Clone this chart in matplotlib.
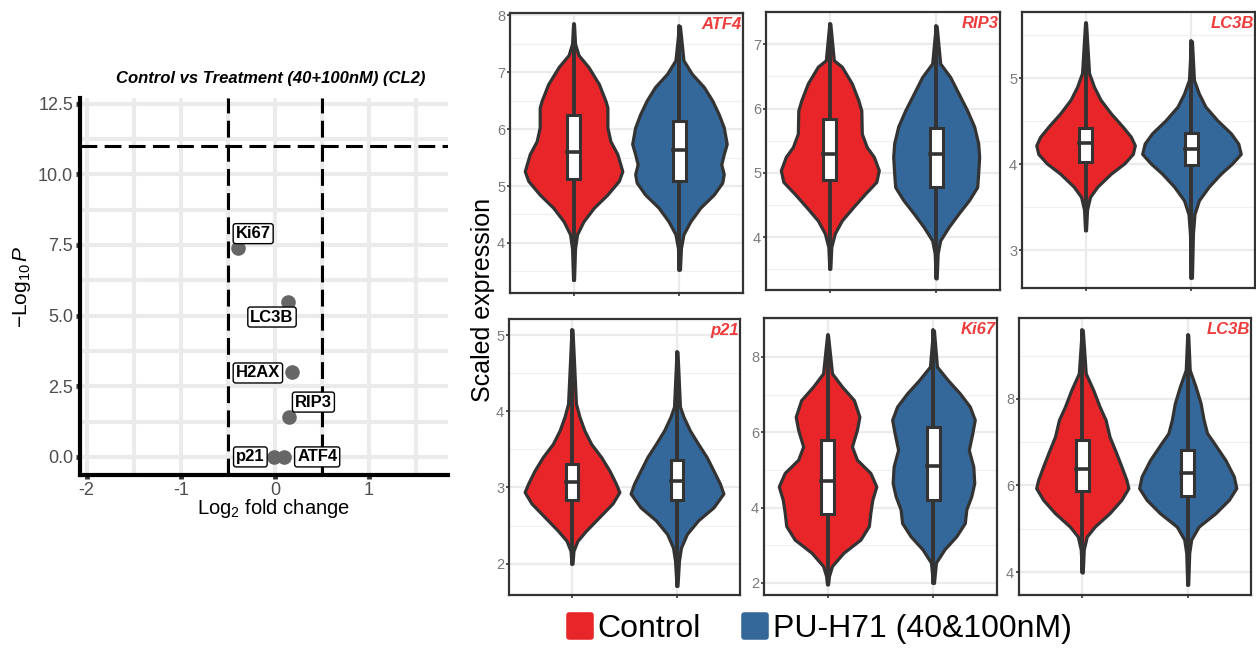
import matplotlib
matplotlib.use('Agg')
import matplotlib.pyplot as plt
import numpy as np
from matplotlib.lines import Line2D
from matplotlib.markers import MarkerStyle
from matplotlib.patches import Rectangle

plt.rcParams['font.family'] = ['Liberation Sans', 'DejaVu Sans']
plt.rcParams['mathtext.fontset'] = 'custom'
plt.rcParams['mathtext.rm'] = 'Liberation Sans'
plt.rcParams['mathtext.it'] = 'Liberation Sans:italic'
plt.rcParams['axes.unicode_minus'] = False

# ---- volcano data ----
genes = ['Ki67', 'LC3B', 'H2AX', 'RIP3', 'p21', 'ATF4']
log2fc = [-0.39, 0.14, 0.18, 0.15, -0.01, 0.10]
neglog10p = [7.38, 5.47, 3.00, 1.41, 0.00, 0.00]
fc_cut = 0.5
p_cut = 11.0
label_x = [-0.23, -0.03, -0.18, 0.41, -0.26, 0.45]
label_y = [7.90, 4.95, 2.97, 1.94, 0.00, 0.00]

# ---- violin data: y levels and relative half-widths ----
groups = ['Control', 'PU-H71 (40&100nM)']
group_colors = ['#E8262A', '#35689A']

atf4_ctrl_y = [3.35, 3.90, 4.15, 4.38, 4.62, 4.85, 5.09, 5.26, 5.56, 5.79, 6.03, 6.38, 6.50, 6.79, 7.09, 7.30, 7.50, 7.84]
atf4_ctrl_w = [0.01, 0.03, 0.07, 0.20, 0.41, 0.68, 0.91, 0.98, 0.88, 0.74, 0.68, 0.68, 0.64, 0.51, 0.30, 0.10, 0.03, 0.01]
atf4_trt_y = [3.53, 3.91, 4.15, 4.38, 4.62, 4.85, 5.06, 5.21, 5.38, 5.56, 5.74, 6.03, 6.26, 6.50, 6.74, 6.97, 7.21, 7.81]
atf4_trt_w = [0.01, 0.03, 0.08, 0.22, 0.42, 0.69, 0.86, 0.89, 0.84, 0.89, 0.95, 0.89, 0.79, 0.66, 0.49, 0.25, 0.08, 0.01]

rip3_ctrl_y = [3.51, 3.85, 4.06, 4.26, 4.47, 4.68, 4.86, 5.04, 5.25, 5.40, 5.61, 5.97, 6.13, 6.39, 6.65, 6.75, 7.32]
rip3_ctrl_w = [0.01, 0.03, 0.10, 0.24, 0.47, 0.71, 0.93, 0.98, 0.88, 0.74, 0.64, 0.63, 0.57, 0.44, 0.24, 0.08, 0.01]
rip3_trt_y = [3.36, 3.75, 3.95, 4.16, 4.37, 4.58, 4.78, 4.99, 5.25, 5.46, 5.72, 5.97, 6.23, 6.49, 6.70, 7.28]
rip3_trt_w = [0.01, 0.03, 0.08, 0.25, 0.45, 0.66, 0.82, 0.84, 0.86, 0.84, 0.76, 0.62, 0.45, 0.28, 0.08, 0.01]

lc3b_ctrl_y = [3.23, 3.47, 3.62, 3.74, 3.89, 4.01, 4.12, 4.22, 4.32, 4.44, 4.59, 4.75, 4.90, 5.06, 5.64]
lc3b_ctrl_w = [0.01, 0.03, 0.09, 0.24, 0.51, 0.78, 0.95, 0.99, 0.91, 0.74, 0.51, 0.30, 0.17, 0.07, 0.01]
lc3b_trt_y = [2.68, 3.19, 3.42, 3.58, 3.74, 3.89, 4.01, 4.12, 4.24, 4.36, 4.51, 4.67, 4.82, 4.98, 5.43]
lc3b_trt_w = [0.01, 0.03, 0.06, 0.15, 0.35, 0.59, 0.82, 0.99, 0.94, 0.79, 0.52, 0.28, 0.15, 0.05, 0.01]

p21_ctrl_y = [2.00, 2.17, 2.30, 2.43, 2.61, 2.79, 2.94, 3.05, 3.22, 3.40, 3.57, 3.75, 3.93, 4.10, 5.07]
p21_ctrl_w = [0.01, 0.03, 0.11, 0.28, 0.55, 0.82, 0.96, 0.89, 0.76, 0.59, 0.39, 0.25, 0.15, 0.08, 0.01]
p21_trt_y = [1.71, 2.04, 2.21, 2.39, 2.57, 2.74, 2.92, 3.05, 3.22, 3.40, 3.57, 3.75, 3.93, 4.06, 4.78]
p21_trt_w = [0.01, 0.04, 0.08, 0.20, 0.43, 0.74, 0.94, 0.87, 0.74, 0.60, 0.43, 0.26, 0.13, 0.06, 0.01]

ki67_ctrl_y = [1.96, 2.19, 2.45, 2.80, 3.15, 3.51, 3.86, 4.21, 4.56, 4.92, 5.27, 5.62, 6.06, 6.41, 6.85, 7.21, 7.56, 8.57]
ki67_ctrl_w = [0.01, 0.03, 0.09, 0.32, 0.66, 0.83, 0.86, 0.90, 0.98, 0.86, 0.59, 0.49, 0.59, 0.64, 0.53, 0.29, 0.09, 0.01]
ki67_trt_y = [2.00, 2.27, 2.54, 2.89, 3.24, 3.59, 3.95, 4.30, 4.65, 5.09, 5.53, 5.97, 6.33, 6.68, 7.03, 7.38, 7.74, 8.70]
ki67_trt_w = [0.01, 0.03, 0.05, 0.22, 0.46, 0.63, 0.66, 0.76, 0.82, 0.80, 0.71, 0.78, 0.83, 0.73, 0.53, 0.29, 0.07, 0.01]

lc3b2_ctrl_y = [3.99, 4.52, 4.82, 5.05, 5.36, 5.67, 5.94, 6.13, 6.44, 6.82, 7.13, 7.52, 7.82, 8.21, 8.59, 9.59]
lc3b2_ctrl_w = [0.01, 0.03, 0.09, 0.25, 0.55, 0.79, 0.93, 0.89, 0.79, 0.66, 0.55, 0.47, 0.35, 0.22, 0.07, 0.01]
lc3b2_trt_y = [3.71, 4.44, 4.75, 5.05, 5.36, 5.67, 5.94, 6.21, 6.59, 6.98, 7.21, 7.52, 7.90, 8.28, 8.67, 9.48]
lc3b2_trt_w = [0.01, 0.03, 0.07, 0.22, 0.56, 0.83, 0.98, 0.93, 0.76, 0.53, 0.39, 0.32, 0.26, 0.16, 0.04, 0.01]

# box stats: q1, median, q3 (ctrl, trt) per panel
panel_genes = ['ATF4', 'RIP3', 'LC3B', 'p21', 'Ki67', 'LC3B']
box_q1 = [5.12, 5.09, 4.89, 4.78, 4.03, 3.99, 2.83, 2.84, 3.82, 4.21, 5.88, 5.75]
box_med = [5.59, 5.63, 5.29, 5.29, 4.25, 4.18, 3.07, 3.08, 4.70, 5.09, 6.38, 6.28]
box_q3 = [6.24, 6.15, 5.84, 5.69, 4.42, 4.36, 3.31, 3.36, 5.80, 6.15, 7.05, 6.82]

profiles = [
    (atf4_ctrl_y, atf4_ctrl_w, atf4_trt_y, atf4_trt_w),
    (rip3_ctrl_y, rip3_ctrl_w, rip3_trt_y, rip3_trt_w),
    (lc3b_ctrl_y, lc3b_ctrl_w, lc3b_trt_y, lc3b_trt_w),
    (p21_ctrl_y, p21_ctrl_w, p21_trt_y, p21_trt_w),
    (ki67_ctrl_y, ki67_ctrl_w, ki67_trt_y, ki67_trt_w),
    (lc3b2_ctrl_y, lc3b2_ctrl_w, lc3b2_trt_y, lc3b2_trt_w),
]

# axis settings per panel
panel_ylim = [(3.12, 8.04), (3.18, 7.5), (2.56, 5.77), (1.59, 5.21), (1.68, 9.03), (3.47, 9.87)]
panel_step = [1, 1, 1, 1, 2, 2]
panel_rects = [(510, 13, 743, 293), (766, 12, 1000, 290), (1022, 12, 1255, 288),
               (509, 319, 740, 595), (764, 318, 997, 595), (1019, 318, 1251, 595)]

W, H = 1256, 649
fig = plt.figure(figsize=(W / 100, H / 100), dpi=100)


def px_axes(l, t, r, b):
    return fig.add_axes([l / W, 1 - b / H, (r - l) / W, (b - t) / H])


# ---------------- volcano ----------------
ax = px_axes(80, 98, 448, 475)
ax.set_xlim(-2.07, 1.84)
ax.set_ylim(-0.64, 12.7)
ax.set_xticks([-2, -1, 0, 1])
ax.set_xticks([-1.5, -0.5, 0.5, 1.5], minor=True)
ax.set_yticks([0, 2.5, 5, 7.5, 10, 12.5])
ax.set_yticks([1.25, 3.75, 6.25, 8.75, 11.25], minor=True)
ax.set_yticklabels(['0.0', '2.5', '5.0', '7.5', '10.0', '12.5'])
ax.grid(True, which='both', color='#EBEBEB', lw=3)
ax.set_axisbelow(True)
for s in ['top', 'right']:
    ax.spines[s].set_visible(False)
for s in ['left', 'bottom']:
    ax.spines[s].set_linewidth(3)
    ax.spines[s].set_color('black')
ax.tick_params(which='major', length=3, width=3.5, color='#333333',
               labelsize=13, labelcolor='#4D4D4D', pad=2)
ax.tick_params(which='minor', length=0)

dash = (0, (5.5, 2.4))
ax.axvline(-fc_cut, color='black', ls=dash, lw=2.2, zorder=2)
ax.axvline(fc_cut, color='black', ls=dash, lw=2.2, zorder=2)
ax.axhline(p_cut, color='black', ls=dash, lw=2.2, zorder=2)

ax.plot(log2fc, neglog10p, 'o', color='#666666', ms=9.5, zorder=3, clip_on=False)
for g, lx, ly in zip(genes, label_x, label_y):
    ax.text(lx, ly, g, ha='center', va='center', fontsize=12, fontweight='bold', zorder=4,
            bbox=dict(boxstyle='round,pad=0.15,rounding_size=0.15', fc='white', ec='black', lw=1))

fig.text(271 / W, 1 - 78 / H, 'Control vs Treatment (40+100nM) (CL2)', ha='center', va='center',
         fontsize=12, fontweight='bold', style='italic')
fig.text(22 / W, 1 - 287 / H, r'$-\mathrm{Log}_{10}\,\mathit{P}$', rotation=90,
         ha='center', va='center', fontsize=15)
fig.text(273 / W, 1 - 508 / H, r'$\mathrm{Log}_{2}\ \mathrm{fold\ change}$',
         ha='center', va='center', fontsize=14.5)

# ---------------- violins ----------------
HALF = 0.47
BW = 0.12
edge = '#333333'


def draw_violin(a, x, ys, ws, q1, med, q3, color):
    ys = np.asarray(ys)
    half = np.asarray(ws) * HALF
    a.fill_betweenx(ys, x - half, x + half, facecolor=color, edgecolor=edge,
                    lw=2.3, joinstyle='round', zorder=2)
    a.plot([x, x], [ys[0], ys[-1]], color=edge, lw=2.8, solid_capstyle='round', zorder=3)
    a.add_patch(Rectangle((x - BW / 2, q1), BW, q3 - q1, fc='white', ec=edge, lw=2.2, zorder=4))
    a.plot([x - BW / 2, x + BW / 2], [med, med], color=edge, lw=2.6, zorder=5)


for i, (rect, prof) in enumerate(zip(panel_rects, profiles)):
    a = px_axes(*rect)
    a.set_xlim(0.4, 2.6)
    lo, hi = panel_ylim[i]
    a.set_ylim(lo, hi)
    st = panel_step[i]
    major = np.arange(np.ceil(lo / st) * st, hi, st)
    minor = major - st / 2
    minor = np.append(minor, major[-1] + st / 2)
    minor = minor[(minor > lo) & (minor < hi)]
    a.set_yticks(major)
    a.set_yticklabels(['%d' % v for v in major])
    a.set_yticks(minor, minor=True)
    a.set_xticks([1, 2])
    a.set_xticklabels(['', ''])
    a.grid(True, which='major', color='#EBEBEB', lw=1.6)
    a.grid(True, which='minor', axis='y', color='#F0F0F0', lw=0.9)
    a.set_axisbelow(True)
    for s in a.spines.values():
        s.set_color(edge)
        s.set_linewidth(1.6)
    a.tick_params(which='major', length=2.5, width=1.2, color=edge,
                  labelsize=10.5, labelcolor='#7A7A7A', pad=1)
    a.tick_params(which='minor', length=0)
    cy, cw, ty, tw = prof
    draw_violin(a, 1, cy, cw, box_q1[2 * i], box_med[2 * i], box_q3[2 * i], group_colors[0])
    draw_violin(a, 2, ty, tw, box_q1[2 * i + 1], box_med[2 * i + 1], box_q3[2 * i + 1], group_colors[1])
    a.text(0.995, 0.985, panel_genes[i], transform=a.transAxes, ha='right', va='top',
           fontsize=12, fontweight='bold', style='italic', color='#EE3B3B')

fig.text(483 / W, 1 - 300 / H, 'Scaled expression', rotation=90, ha='center', va='center', fontsize=18)

handles = [Line2D([], [], ls='none', marker=MarkerStyle('s', joinstyle='round'), ms=16,
                  mfc=c, mec=c, mew=4) for c in group_colors]
fig.legend(handles, groups, loc='center', bbox_to_anchor=(818 / W, 1 - 629 / H), ncol=2,
           frameon=False, fontsize=23, handlelength=1.0, handletextpad=0.05, columnspacing=1.2)

fig.savefig('out.png', dpi=100)
